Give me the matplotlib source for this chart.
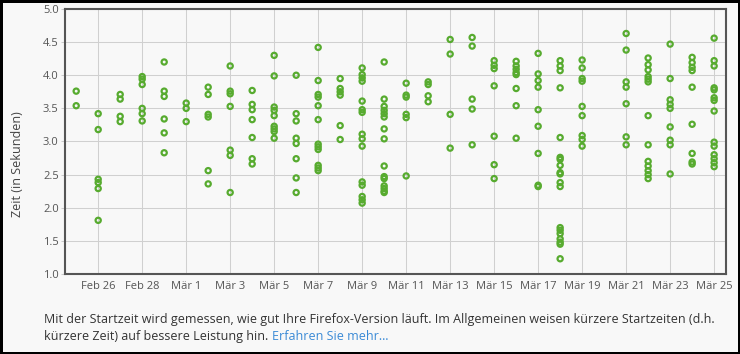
import pandas as pd
import matplotlib
matplotlib.use("Agg")
import matplotlib.pyplot as plt

plt.rcParams['font.family'] = ['Open Sans', 'DejaVu Sans']

# Startzeit je Tag (Sekunden), Feb 25 - Mär 25 2012 (Mär 20 ohne Werte)
tage = ["2012-02-25", "2012-02-26", "2012-02-27", "2012-02-28", "2012-02-29",
        "2012-03-01", "2012-03-02", "2012-03-03", "2012-03-04", "2012-03-05",
        "2012-03-06", "2012-03-07", "2012-03-08", "2012-03-09", "2012-03-10",
        "2012-03-11", "2012-03-12", "2012-03-13", "2012-03-14", "2012-03-15",
        "2012-03-16", "2012-03-17", "2012-03-18", "2012-03-19", "2012-03-21",
        "2012-03-22", "2012-03-23", "2012-03-24", "2012-03-25"]

zeiten = [
    [3.76, 3.54],
    [3.42, 3.18, 2.43, 2.38, 2.29, 1.81],
    [3.71, 3.64, 3.38, 3.30],
    [3.98, 3.94, 3.86, 3.50, 3.42, 3.31],
    [4.20, 3.76, 3.68, 3.34, 3.13, 2.83],
    [3.58, 3.50, 3.30],
    [3.82, 3.71, 3.41, 3.37, 2.56, 2.36],
    [4.14, 3.76, 3.72, 3.53, 2.87, 2.79, 2.23],
    [3.77, 3.56, 3.48, 3.33, 3.06, 2.74, 2.66],
    [4.30, 3.99, 3.52, 3.47, 3.39, 3.23, 3.19, 3.15, 3.05],
    [4.00, 3.42, 3.31, 3.05, 2.97, 2.74, 2.45, 2.23],
    [4.42, 3.92, 3.71, 3.67, 3.54, 3.33, 2.96, 2.92, 2.88, 2.64, 2.60, 2.56],
    [3.95, 3.80, 3.75, 3.70, 3.24, 3.03],
    [4.11, 4.01, 3.96, 3.91, 3.61, 3.48, 3.44, 3.11, 3.04, 2.93, 2.39, 2.34,
     2.17, 2.12, 2.07],
    [4.20, 3.64, 3.53, 3.47, 3.42, 3.37, 3.19, 3.04, 2.63, 2.47, 2.44, 2.33,
     2.29, 2.25, 2.23],
    [3.88, 3.70, 3.67, 3.41, 3.36, 2.48],
    [3.90, 3.86, 3.69, 3.60],
    [4.54, 4.32, 3.41, 2.90],
    [4.57, 4.44, 3.64, 3.49, 2.95],
    [4.22, 4.15, 4.10, 3.84, 3.08, 2.65, 2.44],
    [4.21, 4.14, 4.09, 4.04, 4.01, 3.80, 3.54, 3.05],
    [4.33, 4.02, 3.92, 3.82, 3.48, 3.23, 2.82, 2.34, 2.32],
    [4.22, 4.14, 4.07, 3.81, 3.06, 2.76, 2.73, 2.64, 2.53, 2.51, 2.38, 2.32,
     1.70, 1.66, 1.61, 1.53, 1.48, 1.45, 1.23],
    [4.23, 4.11, 3.95, 3.91, 3.53, 3.39, 3.09, 3.03, 2.93],
    [4.63, 4.38, 3.90, 3.82, 3.57, 3.07, 2.95],
    [4.26, 4.16, 4.08, 3.98, 3.94, 3.90, 3.39, 2.95, 2.70, 2.63, 2.56, 2.50, 2.44],
    [4.47, 3.95, 3.63, 3.56, 3.50, 3.22, 3.02, 2.95, 2.51],
    [4.27, 4.19, 4.12, 4.07, 3.82, 3.26, 2.82, 2.69, 2.66],
    [4.56, 4.22, 4.14, 3.81, 3.78, 3.66, 3.62, 3.46, 2.99, 2.93, 2.80, 2.74,
     2.68, 2.62],
]

tick_tage = ["2012-02-26", "2012-02-28", "2012-03-01", "2012-03-03", "2012-03-05",
             "2012-03-07", "2012-03-09", "2012-03-11", "2012-03-13", "2012-03-15",
             "2012-03-17", "2012-03-19", "2012-03-21", "2012-03-23", "2012-03-25"]
tick_labels = ["Feb 26", "Feb 28", "Mär 1", "Mär 3", "Mär 5", "Mär 7", "Mär 9",
               "Mär 11", "Mär 13", "Mär 15", "Mär 17", "Mär 19", "Mär 21",
               "Mär 23", "Mär 25"]
y_ticks = [1.0, 1.5, 2.0, 2.5, 3.0, 3.5, 4.0, 4.5, 5.0]

start = pd.Timestamp(tage[0])
x_tage = [(pd.Timestamp(t) - start).days for t in tage]
x_ticks = [(pd.Timestamp(t) - start).days for t in tick_tage]

xs, ys = [], []
for x, werte in zip(x_tage, zeiten):
    for w in werte:
        xs.append(x)
        ys.append(w)

bg = "#f8f8f8"
fig = plt.figure(figsize=(7.4, 3.54), dpi=100)
fig.patch.set_facecolor(bg)
fig.patch.set_edgecolor("black")
fig.patch.set_linewidth(3.6)

ax = fig.add_axes([0.0878, 0.226, 0.893, 0.7486])
ax.set_facecolor(bg)
ax.scatter(xs, ys, s=14, facecolors="none", edgecolors="#57ab2f", linewidths=1.6, zorder=3)

ax.set_xlim(-0.51, 29.53)
ax.set_ylim(1.0, 5.0)
ax.set_xticks(x_ticks)
ax.set_xticklabels(tick_labels)
ax.set_yticks(y_ticks)
ax.set_yticklabels([f"{v:.1f}" for v in y_ticks])
ax.grid(True, color="#d0d0d0", linewidth=0.75)
ax.set_axisbelow(True)
ax.tick_params(axis="x", length=0, pad=5, labelsize=8, colors="#555555")
ax.tick_params(axis="y", length=3, width=0.75, pad=1.5, labelsize=8,
               colors="#cccccc", labelcolor="#555555")
for sp in ax.spines.values():
    sp.set_color("#555555")
    sp.set_linewidth(1.5)

fig.text(18 / 740, 1 - 164 / 354, "Zeit (in Sekunden)", rotation=90,
         ha="center", va="center", fontsize=9, color="#444444")

fig.text(44 / 740, 1 - 323 / 354,
         "Mit der Startzeit wird gemessen, wie gut Ihre Firefox-Version läuft. "
         "Im Allgemeinen weisen kürzere Startzeiten (d.h.",
         fontsize=9, color="#333333", va="baseline")
t2 = fig.text(44 / 740, 1 - 340 / 354, "kürzere Zeit) auf bessere Leistung hin. ",
              fontsize=9, color="#333333", va="baseline")
fig.canvas.draw()
bb = t2.get_window_extent()
fig.text(bb.x1 / 740, 1 - 340 / 354, "Erfahren Sie mehr…",
         fontsize=9, color="#3a8ad6", va="baseline")

fig.savefig("out.png", dpi=100, facecolor=bg)
